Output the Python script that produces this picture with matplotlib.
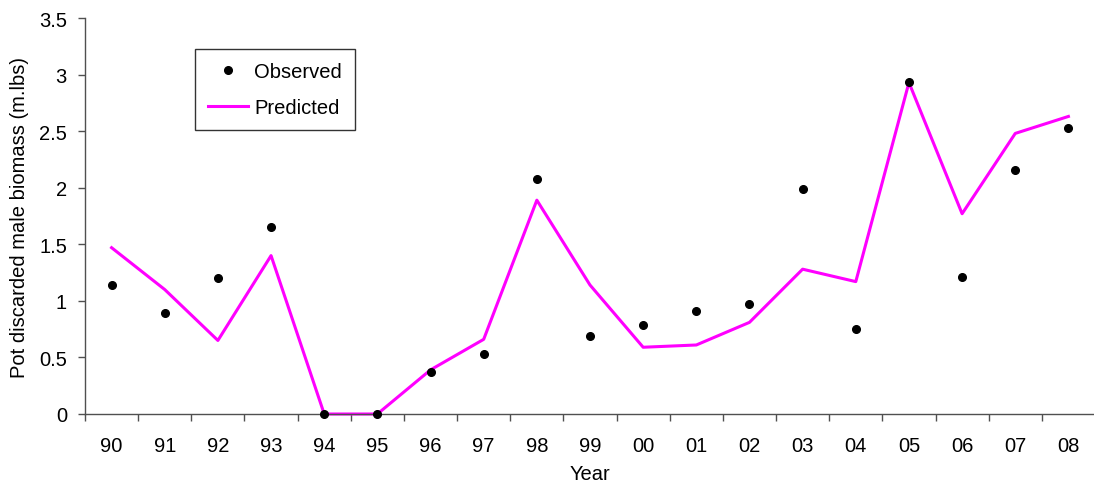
import matplotlib
matplotlib.use("Agg")
import matplotlib.pyplot as plt
from matplotlib.lines import Line2D
import numpy as np

years = ["90", "91", "92", "93", "94", "95", "96", "97", "98", "99",
         "00", "01", "02", "03", "04", "05", "06", "07", "08"]
observed = [1.14, 0.89, 1.20, 1.65, 0.0, 0.0, 0.37, 0.53, 2.08, 0.69,
            0.79, 0.91, 0.97, 1.99, 0.75, 2.93, 1.21, 2.16, 2.53]
predicted = [1.47, 1.10, 0.65, 1.40, 0.0, 0.0, 0.39, 0.66, 1.89, 1.14,
             0.59, 0.61, 0.81, 1.28, 1.17, 2.93, 1.77, 2.48, 2.63]
yticks = [0, 0.5, 1, 1.5, 2, 2.5, 3, 3.5]
ytick_labels = ["0", "0.5", "1", "1.5", "2", "2.5", "3", "3.5"]

plt.rcParams['font.family'] = ['Liberation Sans', 'DejaVu Sans']
FS = 14.5

W, H = 1094, 485
fig = plt.figure(figsize=(W / 100, H / 100), dpi=100)
ax = fig.add_axes([85 / W, 70 / H, 1010 / W, 396 / H])

x = np.arange(len(years))
ax.plot(x, predicted, color='#FF00FF', lw=2.2, zorder=2, clip_on=False)
ax.plot(x, observed, 'o', color='black', ms=5.5, zorder=3, clip_on=False)

ax.set_xlim(-0.5, len(years) - 0.5)
ax.set_ylim(0, 3.5)
ax.set_yticks(yticks)
ax.set_yticklabels(ytick_labels)
ax.set_xticks(np.arange(len(years) + 1) - 0.5)
ax.set_xticklabels([])
ax.set_xticks(x, minor=True)
ax.set_xticklabels(years, minor=True)
ax.tick_params(axis='x', which='major', direction='out', length=5, color='#505050', width=1)
ax.tick_params(axis='x', which='minor', length=0, labelsize=FS, pad=16)
ax.tick_params(axis='y', direction='out', length=5, color='#505050', width=1, labelsize=FS, pad=8)

for s in ['top', 'right']:
    ax.spines[s].set_visible(False)
for s in ['left', 'bottom']:
    ax.spines[s].set_color('#505050')
    ax.spines[s].set_linewidth(1)

ax.set_xlabel("Year", fontsize=FS, labelpad=6)
ax.set_ylabel("Pot discarded male biomass (m.lbs)", fontsize=FS, labelpad=7)

handles = [Line2D([], [], marker='o', color='black', ls='none', ms=5.5),
           Line2D([], [], color='#FF00FF', lw=2.2)]
leg = ax.legend(handles, ["Observed", "Predicted"], loc='upper left',
                bbox_to_anchor=((195 - 85) / 1010, (415 - 50) / 396),
                fontsize=FS, frameon=True, fancybox=False, edgecolor='black',
                borderpad=0.65, labelspacing=0.85, handlelength=2.0, handletextpad=0.3,
                borderaxespad=0)
leg.get_frame().set_linewidth(1)

fig.savefig("out.png", dpi=100)
